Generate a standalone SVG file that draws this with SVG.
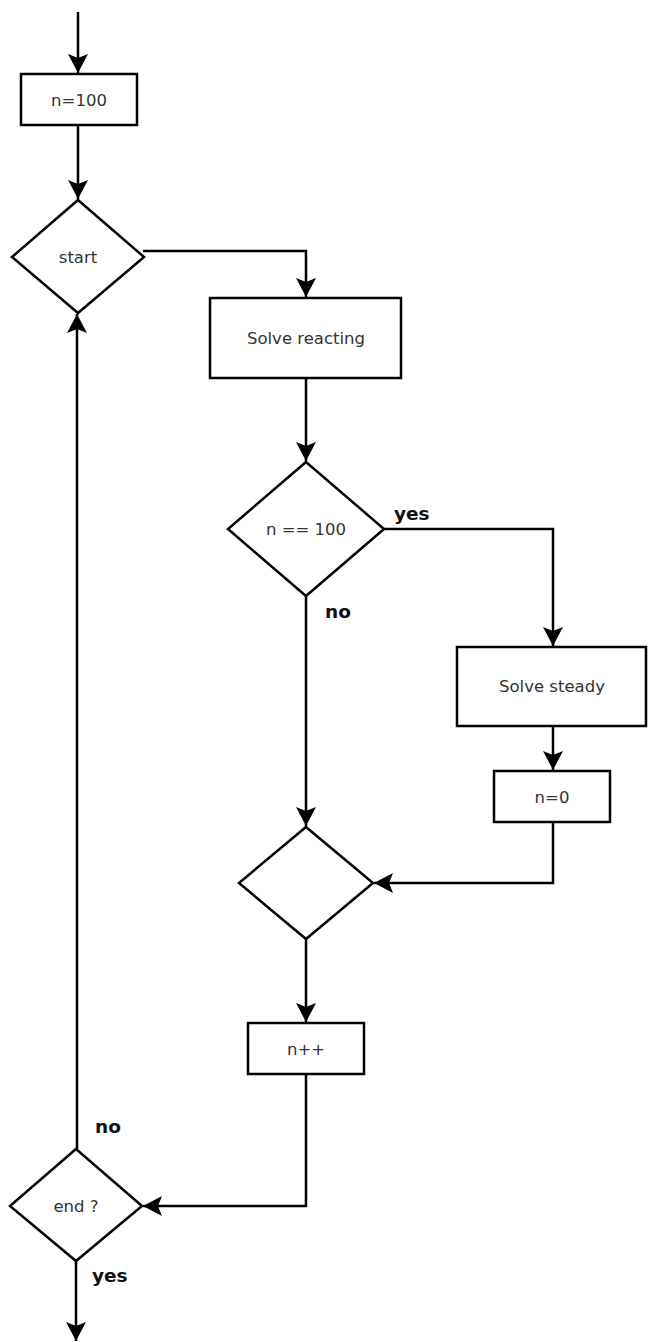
<svg xmlns="http://www.w3.org/2000/svg" width="648" height="1342" viewBox="0 0 648 1342">
<style>
.shape{fill:#fff;stroke:#000;stroke-width:2.5}
.lbl{font-family:"DejaVu Sans",sans-serif;font-size:16.5px;fill:#333;text-anchor:middle}
.edge{fill:none;stroke:#000;stroke-width:2.5;marker-end:url(#arr)}
.elbl{font-family:"DejaVu Sans",sans-serif;font-size:18.5px;font-weight:bold;fill:#111}
</style>
<defs>
<marker id="arr" markerUnits="userSpaceOnUse" markerWidth="22" markerHeight="22" viewBox="-20 -11 21 22" refX="0" refY="0" orient="auto">
<path d="M0,0 L-19,-10 L-15,0 L-19,10 Z" fill="#000"/>
</marker>
</defs>
<g id="connectors">
<path class="edge" d="M78,12 V73"/>
<path class="edge" d="M78,125 V199"/>
<path class="edge" d="M143,251 H306 V297"/>
<path class="edge" d="M306,378 V461"/>
<path class="edge" d="M384,529 H553 V646"/>
<path class="edge" d="M553,726 V770"/>
<path class="edge" d="M306,596 V826"/>
<path class="edge" d="M553,822 V883 H374"/>
<path class="edge" d="M306,939 V1022"/>
<path class="edge" d="M306,1074 V1206 H143"/>
<path class="edge" d="M77,1149 V314"/>
<path class="edge" d="M76,1261 V1341"/>
<text class="elbl" x="394" y="520">yes</text>
<text class="elbl" x="325" y="618">no</text>
<text class="elbl" x="95" y="1133">no</text>
<text class="elbl" x="92" y="1282">yes</text>
</g>
<g id="n100">
<rect class="shape" x="21" y="74" width="116" height="51"/>
<text class="lbl" x="79" y="100" dy=".35em">n=100</text>
</g>
<g id="start">
<polygon class="shape" points="78,200 144,257 78,313 12,257"/>
<text class="lbl" x="78" y="257" dy=".35em">start</text>
</g>
<g id="solveReacting">
<rect class="shape" x="210" y="298" width="191" height="80"/>
<text class="lbl" x="306" y="338" dy=".35em">Solve reacting</text>
</g>
<g id="check100">
<polygon class="shape" points="306,462 384,529 306,596 228,529"/>
<text class="lbl" x="306" y="529" dy=".35em">n == 100</text>
</g>
<g id="solveSteady">
<rect class="shape" x="457" y="647" width="189" height="79"/>
<text class="lbl" x="552" y="686" dy=".35em">Solve steady</text>
</g>
<g id="n0">
<rect class="shape" x="494" y="771" width="116" height="51"/>
<text class="lbl" x="552" y="797" dy=".35em">n=0</text>
</g>
<g id="merge">
<polygon class="shape" points="306,827 373,883 306,939 239,883"/>
</g>
<g id="nInc">
<rect class="shape" x="248" y="1023" width="116" height="51"/>
<text class="lbl" x="306" y="1049" dy=".35em">n++</text>
</g>
<g id="endCheck">
<polygon class="shape" points="76,1149 142,1206 76,1261 10,1206"/>
<text class="lbl" x="76" y="1206" dy=".35em">end ?</text>
</g>
</svg>
